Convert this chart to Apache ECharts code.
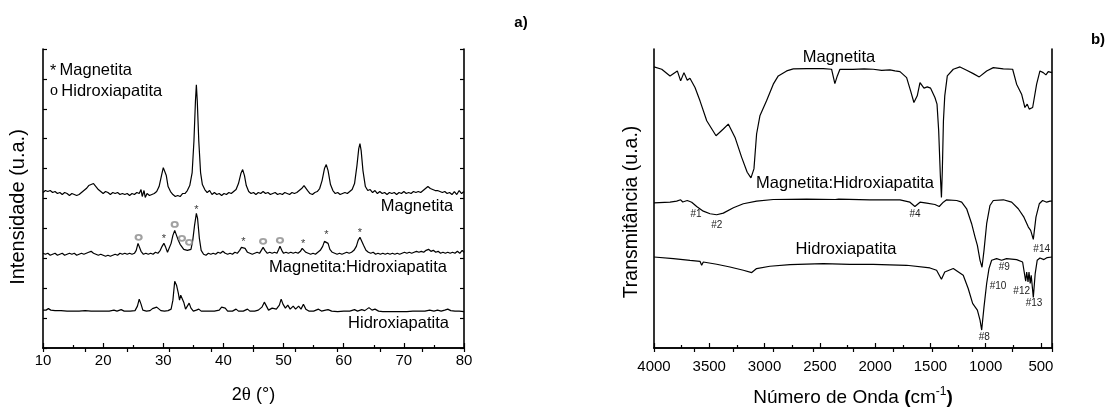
<!DOCTYPE html>
<html>
<head>
<meta charset="utf-8">
<script src="https://cdn.jsdelivr.net/npm/echarts@6/dist/echarts.min.js"></script>
<style>
html,body{margin:0;padding:0;background:#fff;}
#chart{width:1109px;height:407px;}
</style>
</head>
<body>
<div id="chart"></div>
<script>
// ---------- a) XRD patterns: 2θ (degrees) and intensity (arbitrary units, stacked) ----------
const xrdMagAngle = [10.0,10.4,10.8,11.2,11.6,12.0,12.4,12.8,13.2,13.6,14.0,14.4,14.8,15.2,15.6,16.0,16.4,16.8,17.2,17.6,18.0,18.4,18.8,19.2,19.6,20.0,20.4,20.8,21.2,21.6,22.0,22.4,22.8,23.2,23.6,24.0,24.4,24.8,25.2,25.6,26.0,26.3,26.5,26.8,27.0,27.3,27.7,28.1,28.5,28.9,29.3,29.7,30.0,30.2,30.5,30.8,31.2,31.6,32.0,32.4,32.8,33.2,33.6,34.0,34.4,34.8,35.1,35.35,35.5,35.65,35.9,36.2,36.5,36.9,37.3,37.7,38.1,38.5,38.9,39.3,39.7,40.1,40.5,40.9,41.3,41.7,42.1,42.5,42.9,43.2,43.5,43.8,44.2,44.6,45.0,45.4,45.8,46.2,46.6,47.0,47.4,47.8,48.2,48.6,49.0,49.4,49.8,50.2,50.6,51.0,51.4,51.8,52.2,52.6,53.0,53.4,53.7,54.0,54.4,54.8,55.2,55.6,56.0,56.4,56.8,57.1,57.4,57.8,58.2,58.6,59.0,59.4,59.8,60.2,60.6,61.0,61.4,61.8,62.2,62.5,62.7,62.9,63.2,63.6,64.0,64.4,64.8,65.2,65.6,66.0,66.4,66.8,67.2,67.6,68.0,68.4,68.8,69.2,69.6,70.0,70.4,70.8,71.2,71.6,72.0,72.4,72.8,73.2,73.6,74.0,74.4,74.8,75.2,75.6,76.0,76.4,76.8,77.2,77.6,78.0,78.4,78.8,79.2,79.6,80.0];
const xrdMagInt = [156,158,157,158,156,157,155,156,154,156,155,153,155,154,153,154,156,158,160,163,164,165,162,159,157,155,157,156,154,156,155,156,154,155,154,155,153,155,154,156,155,159,152,158,151,155,153,154,155,157,162,173,181,180,173,162,157,154,152,153,152,155,155,158,163,176,208,248,264,248,208,176,164,159,156,158,154,156,154,155,153,155,154,156,155,157,159,165,175,179,173,163,157,155,156,154,156,155,157,155,156,154,155,156,154,155,154,156,155,154,156,155,156,158,160,163,162,158,155,154,156,157,160,168,180,184,178,164,158,155,156,154,155,156,155,157,159,165,183,200,205,198,178,162,158,159,156,158,155,157,155,156,154,156,155,156,154,156,155,157,155,156,155,157,156,157,156,158,160,162,160,159,158,158,157,156,157,155,156,154,157,154,158,155,157];

const xrdMixAngle = [10.0,10.4,10.8,11.2,11.6,12.0,12.4,12.8,13.2,13.6,14.0,14.4,14.8,15.2,15.6,16.0,16.4,16.8,17.2,17.6,18.0,18.4,18.8,19.2,19.6,20.0,20.4,20.8,21.2,21.6,22.0,22.4,22.8,23.2,23.6,24.0,24.4,24.8,25.2,25.5,25.8,26.0,26.3,26.7,27.1,27.5,27.9,28.3,28.7,29.1,29.5,29.8,30.1,30.4,30.7,31.0,31.3,31.6,31.9,32.2,32.5,32.8,33.1,33.4,33.7,34.0,34.3,34.6,34.9,35.2,35.5,35.7,36.0,36.3,36.7,37.1,37.5,37.9,38.3,38.7,39.1,39.5,39.9,40.3,40.7,41.1,41.5,41.9,42.3,42.7,43.0,43.3,43.6,44.0,44.4,44.8,45.2,45.6,46.0,46.3,46.6,46.9,47.3,47.7,48.1,48.5,48.9,49.2,49.4,49.7,50.0,50.4,50.8,51.2,51.6,52.0,52.4,52.8,53.1,53.4,53.7,54.1,54.5,54.9,55.3,55.7,56.1,56.5,56.8,57.1,57.4,57.7,58.1,58.5,58.9,59.3,59.7,60.1,60.5,60.9,61.3,61.7,62.1,62.4,62.7,63.0,63.3,63.7,64.1,64.5,64.9,65.3,65.7,66.1,66.5,66.9,67.3,67.7,68.1,68.5,68.9,69.3,69.7,70.1,70.5,70.9,71.3,71.7,72.1,72.5,72.9,73.3,73.7,74.1,74.5,74.9,75.3,75.7,76.1,76.5,76.9,77.3,77.7,78.1,78.5,78.9,79.3,79.7,80.0];
const xrdMixInt = [95,94,95,93,94,95,93,94,95,93,94,95,94,95,93,94,95,94,95,96,97,95,94,93,94,93,92,93,92,93,94,93,95,94,95,94,95,94,95,98,105,104,97,94,95,94,95,94,96,95,98,102,105,101,96,98,105,113,118,116,108,104,104,99,97,98,100,99,108,123,135,130,110,98,94,93,95,94,95,94,96,95,97,95,94,95,94,96,95,98,101,102,100,96,95,94,95,96,95,98,101,98,95,96,95,96,95,99,102,98,95,96,95,96,95,96,95,97,100,100,96,95,94,95,94,96,98,102,107,109,105,99,96,95,94,95,94,95,96,95,96,98,102,108,111,109,103,98,96,95,96,94,95,94,95,94,95,94,95,94,95,94,95,96,95,96,95,96,97,96,97,96,98,99,97,98,96,97,95,96,95,96,95,96,95,97,95,98,96];

const xrdHapAngle = [10.0,10.5,10.9,11.3,12.0,13.0,14.0,15.0,16.0,17.0,18.0,19.0,20.0,21.0,21.8,22.3,23.0,23.5,24.5,25.3,25.7,26.0,26.3,26.6,27.2,27.8,28.2,28.5,28.9,29.2,29.6,30.2,30.8,31.3,31.6,31.9,32.2,32.5,32.7,32.9,33.1,33.4,33.7,34.0,34.3,34.6,35.0,35.5,35.9,36.3,37.0,37.8,38.5,39.3,39.7,40.0,40.3,40.7,41.5,42.1,42.5,43.3,44.0,44.4,45.2,45.8,46.4,46.8,47.1,47.5,48.1,48.4,48.8,49.3,49.6,49.9,50.3,50.7,51.1,51.6,52.0,52.5,52.9,53.3,53.7,54.2,55.0,55.8,56.3,57.0,57.4,58.0,59.0,60.0,61.0,61.8,62.3,63.0,63.5,64.2,64.7,65.2,65.8,66.5,67.5,68.5,69.5,70.5,71.5,72.5,73.5,74.3,75.0,75.6,76.2,76.8,77.3,77.8,78.5,79.2,80.0];
const xrdHapInt = [38,38,39.5,38,37.5,37.5,37,37,37,37.5,37,37,37,37,38,37,38.5,37,37,37.5,42,49,44,38,37,37.5,39.5,38,41,40.5,37.5,37,37.5,39,48,67,63,55,48,53,55,46,39,41,45,40,37,38,39,37,37,37,37,38,41,43,40,37,37,39,37,37,39,37,37,38,41,46,44,38,40,41.5,39,43,49,44,40,43,39,42,39,42,39,44,39,37,37,39,37,38,38.5,37,36.5,37,37,38.5,37,38.5,37.5,40.5,38,39,37,36.5,36.5,36.5,36.5,36.5,37,37,37,38,37,38,37,38,39,37.5,37,37,36.5];

// Phase marks above the peaks of the composite pattern
const xrdMarkSymbol = ['o','*','o','o','o','*','*','o','o','*','*','*'];
const xrdMarkAngle  = [25.9,30.1,31.9,33.1,34.3,35.5,43.3,46.6,49.4,53.25,57.1,62.7];

// ---------- b) FTIR spectra: wavenumber (cm-1) and transmittance (arbitrary units, stacked) ----------
const ftirMagWn = [4000,3930,3855,3789,3759,3729,3699,3675,3629,3584,3523,3439,3373,3328,3267,3207,3157,3123,3096,3072,3042,2982,2921,2876,2800,2740,2619,2469,2394,2364,2342,2318,2200,2100,2017,1940,1866,1820,1775,1715,1679,1649,1619,1594,1558,1528,1498,1459,1440,1425,1410,1400,1392,1382,1370,1347,1293,1232,1172,1112,1058,991,931,840,756,720,675,645,624,606,575,539,509,479,455,434,400];
const ftirMagT = [282,279.7,273,278,268,276.3,268.7,270.7,261.3,248,228,213,219.7,224.7,211.3,191.3,176.3,170.7,179.7,214.7,233,248,264.7,273,278,280,280.3,280.3,279.7,265.3,273,279.7,279.5,280,279.7,278.5,279,278,277.3,271.3,258,246.3,253,266.3,260.7,262,260.7,251.3,244.7,218,173,151,178,228,253,273,279.7,282,278.7,275.3,272,278,281.3,280,279.7,264.7,254.7,241.3,244.7,239.7,241.3,264.7,278,276.3,274,277.3,276.3];

const ftirMixWn = [4000,3855,3795,3759,3740,3729,3699,3659,3614,3554,3493,3433,3373,3282,3192,3072,2921,2619,2360,2348,2330,2047,1956,1775,1685,1640,1594,1533,1459,1420,1383,1353,1262,1217,1172,1127,1096,1075,1051,1033,1015,991,961,931,840,765,705,654,614,593,584,569,545,515,485,448,418,400];
const ftirMixT = [145.7,146.3,147.3,148.7,146.5,147,148,146.3,142,137.3,134.7,133.7,135.3,140.7,144.7,147.3,149,149.3,149,147.5,149.3,148.7,148.7,148.7,146.3,142,146.3,145.3,144,142,146.3,148.7,148,146.3,139.7,124.7,111.3,103,88,81,98,124.7,143,148,148.7,146.3,139.7,131.3,121.3,118,119.7,109,131.3,144.7,148,146.3,147.3,147.3];

const ftirHapWn = [4000,3825,3674,3584,3569,3554,3433,3313,3192,3116,3072,2952,2770,2469,2228,2017,1715,1504,1444,1400,1370,1293,1203,1158,1118,1096,1075,1051,1036,1015,991,970,946,901,856,811,720,666,651,638,629,617,608,597,588,569,552,534,509,473,443,400];
const ftirHapT = [91.3,89.7,88,87,83,86.3,84,81.3,78,75.7,79.7,82,83.7,84.7,84,84,83,80.3,78,69,76.3,79.7,73,59.7,44.7,41.3,38,28,18,41.3,64.7,79.7,88,89.7,88,89.7,88.7,86.3,84.7,67,76.3,66.3,76.3,64.7,73,50.7,74.7,88,90.3,88.7,90.7,91.3];

// Band labels on the spectra
const ftirBandNames = ['#1','#2','#4','#14','#9','#10','#12','#13','#8'];

// ---------- drawing ----------
const FONT = '"Liberation Sans", Arial, Helvetica, sans-serif';
const SERIF = '"Liberation Serif", "Times New Roman", serif';
const INK = '#000';
const AX = { lineStyle: { color: INK, width: 1.6 } };

function pairs(xs, ys, sign) { return xs.map((x, i) => [sign * x, ys[i]]); }

// height of a pattern at a given angle (nearest sampled point)
function valueNear(xs, ys, x) {
  let best = 0;
  for (let i = 1; i < xs.length; i++) if (Math.abs(xs[i] - x) < Math.abs(xs[best] - x)) best = i;
  return ys[best];
}
const MARK_GAP = 6;
const xrdMarks = xrdMarkAngle.map((a, i) => {
  // follow the local maximum of the composite pattern around the mark
  let v = 0;
  for (let d = -0.3; d <= 0.3001; d += 0.1) v = Math.max(v, valueNear(xrdMixAngle, xrdMixInt, a + d));
  return { value: [a, v + MARK_GAP], sym: xrdMarkSymbol[i] };
});

function traceLine(name, data, xi, yi) {
  return {
    type: 'line', name, data, xAxisIndex: xi, yAxisIndex: yi,
    showSymbol: false, symbol: 'none', smooth: false,
    lineStyle: { color: INK, width: 1.2 }, z: 3, silent: true
  };
}

const bandPos = [[696,214.7],[716.7,225.7],[915,214.7],[1041.7,249.7],[1004.3,267.3],[998,286.7],[1021.7,291],[1034,303.7],[984.3,337]];

function txt(text, x, y, size, opts) {
  return Object.assign({
    type: 'text', x, y, silent: true,
    style: Object.assign({ text, font: size + 'px ' + FONT, fill: INK, textAlign: 'center', textVerticalAlign: 'middle' }, (opts && opts.style) || {})
  }, (opts && opts.el) || {});
}

const graphics = [
  txt('a)', 521, 23, 15, { style: { font: 'bold 15px ' + FONT } }),
  txt('b)', 1098, 40, 15, { style: { font: 'bold 15px ' + FONT } }),
  // legend of phase marks
  {
    type: 'text', x: 50, y: 70, silent: true,
    style: { text: '{a|*} {t|Magnetita}', textAlign: 'left', textVerticalAlign: 'middle',
      rich: { a: { font: '16px ' + FONT, fill: INK, padding: [4,0,0,0] }, t: { font: '16.5px ' + FONT, fill: INK } } }
  },
  {
    type: 'text', x: 50, y: 91, silent: true,
    style: { text: '{a|o} {t|Hidroxiapatita}', textAlign: 'left', textVerticalAlign: 'middle',
      rich: { a: { font: '16px ' + SERIF, fill: INK }, t: { font: '16.5px ' + FONT, fill: INK } } }
  },
  // trace names, panel a
  txt('Magnetita', 417, 206, 16.5),
  txt('Magnetita:Hidroxiapatita', 358, 267, 16.5),
  txt('Hidroxiapatita', 398.5, 323.5, 16.5),
  // trace names, panel b
  txt('Magnetita', 839, 57, 16.5),
  txt('Magnetita:Hidroxiapatita', 845, 183.5, 16.5),
  txt('Hidroxiapatita', 846, 249.5, 16.5),
  // axis titles
  txt('Intensidade (u.a.)', 18, 207, 20, { el: { rotation: Math.PI / 2 } }),
  txt('Transmitância (u.a.)', 632, 212, 19.5, { el: { rotation: Math.PI / 2 } }),
  {
    type: 'text', x: 253.5, y: 395, silent: true,
    style: { text: '{n|2}{t|θ}{n| (°)}', textAlign: 'center', textVerticalAlign: 'middle',
      rich: { n: { font: '18px ' + FONT, fill: INK }, t: { font: '19px ' + SERIF, fill: INK } } }
  },
  {
    type: 'text', x: 853, y: 398, silent: true,
    style: { text: '{n|Número de Onda }{b|(}{n|cm}{s|-1}{b|)}', textAlign: 'center', textVerticalAlign: 'middle',
      rich: {
        n: { font: '19px ' + FONT, fill: INK, lineHeight: 24 },
        b: { font: 'bold 19px ' + FONT, fill: INK, lineHeight: 24 },
        s: { font: '12px ' + FONT, fill: INK, lineHeight: 12, verticalAlign: 'top' }
      } }
  }
].concat(ftirBandNames.map((n, i) => txt(n, bandPos[i][0], bandPos[i][1], 10, { style: { fill: '#222' } })));

const option = {
  animation: false,
  backgroundColor: '#fff',
  grid: [
    { left: 43, right: 645, top: 49, bottom: 59 },
    { left: 654, right: 57, top: 49, bottom: 59 }
  ],
  xAxis: [
    { gridIndex: 0, type: 'value', min: 10, max: 80, interval: 10, position: 'bottom',
      axisLine: AX, splitLine: { show: false },
      axisTick: { inside: true, length: 5, lineStyle: { color: INK, width: 1.2 } },
      minorTick: { show: true, splitNumber: 2, length: 3, lineStyle: { color: INK, width: 1.2 } },
      axisLabel: { fontSize: 15, fontFamily: FONT, color: INK, margin: 5 } },
    { gridIndex: 0, type: 'value', min: 0, max: 10, interval: 1, position: 'top',
      axisLine: AX, splitLine: { show: false },
      axisTick: { inside: true, length: 4, lineStyle: { color: INK, width: 1.2 } },
      axisLabel: { show: false } },
    { gridIndex: 1, type: 'value', min: -4000, max: -400, interval: 500, position: 'bottom',
      axisLine: AX, splitLine: { show: false },
      axisTick: { inside: true, length: 5, lineStyle: { color: INK, width: 1.2 } },
      minorTick: { show: true, splitNumber: 2, length: 3, lineStyle: { color: INK, width: 1.2 } },
      axisLabel: { fontSize: 15, fontFamily: FONT, color: INK, margin: 11,
        formatter: v => (v === -400 ? '' : String(-v)) } },
    { gridIndex: 1, type: 'value', min: 0, max: 10, interval: 1, position: 'top',
      axisLine: AX, splitLine: { show: false },
      axisTick: { inside: true, length: 4, lineStyle: { color: INK, width: 1.2 } },
      axisLabel: { show: false } }
  ],
  yAxis: [
    { gridIndex: 0, type: 'value', min: 0, max: 300, interval: 30, position: 'left',
      axisLine: Object.assign({ show: true }, AX), splitLine: { show: false },
      axisTick: { show: true, inside: true, length: 4, lineStyle: { color: INK, width: 1.2 } },
      axisLabel: { show: false } },
    { gridIndex: 0, type: 'value', min: 0, max: 300, interval: 30, position: 'right',
      axisLine: Object.assign({ show: true }, AX), splitLine: { show: false },
      axisTick: { show: true, inside: true, length: 4, lineStyle: { color: INK, width: 1.2 } },
      axisLabel: { show: false } },
    { gridIndex: 1, type: 'value', min: 0, max: 300, interval: 30, position: 'left',
      axisLine: Object.assign({ show: true }, AX), splitLine: { show: false },
      axisTick: { show: false }, axisLabel: { show: false } },
    { gridIndex: 1, type: 'value', min: 0, max: 300, interval: 30, position: 'right',
      axisLine: Object.assign({ show: true }, AX), splitLine: { show: false },
      axisTick: { show: false }, axisLabel: { show: false } }
  ],
  series: [
    traceLine('Magnetita', pairs(xrdMagAngle, xrdMagInt, 1), 0, 0),
    traceLine('Magnetita:Hidroxiapatita', pairs(xrdMixAngle, xrdMixInt, 1), 0, 0),
    traceLine('Hidroxiapatita', pairs(xrdHapAngle, xrdHapInt, 1), 0, 0),
    {
      // magnetite peaks: asterisks
      type: 'scatter', xAxisIndex: 0, yAxisIndex: 0, silent: true, z: 4,
      symbolSize: 1, itemStyle: { color: 'rgba(0,0,0,0)' },
      data: xrdMarks.filter(m => m.sym === '*').map(m => ({
        value: m.value,
        label: { show: true, position: 'inside', formatter: '*', fontSize: 11, fontFamily: FONT, color: INK, offset: [0, 2] }
      }))
    },
    {
      // hydroxyapatite peaks: small thin open circles (stroke takes the item colour)
      type: 'scatter', xAxisIndex: 0, yAxisIndex: 0, silent: true, z: 4,
      symbol: 'emptyCircle', symbolSize: [6, 5],
      itemStyle: { color: '#8a8a8a', borderWidth: 0.8 },
      data: xrdMarks.filter(m => m.sym === 'o').map(m => m.value)
    },
    traceLine('Magnetita', pairs(ftirMagWn, ftirMagT, -1), 2, 2),
    traceLine('Magnetita:Hidroxiapatita', pairs(ftirMixWn, ftirMixT, -1), 2, 2),
    traceLine('Hidroxiapatita', pairs(ftirHapWn, ftirHapT, -1), 2, 2)
  ],
  graphic: graphics
};

const chart = echarts.init(document.getElementById('chart'), null, { renderer: 'canvas' });
chart.setOption(option);
</script>
</body>
</html>
